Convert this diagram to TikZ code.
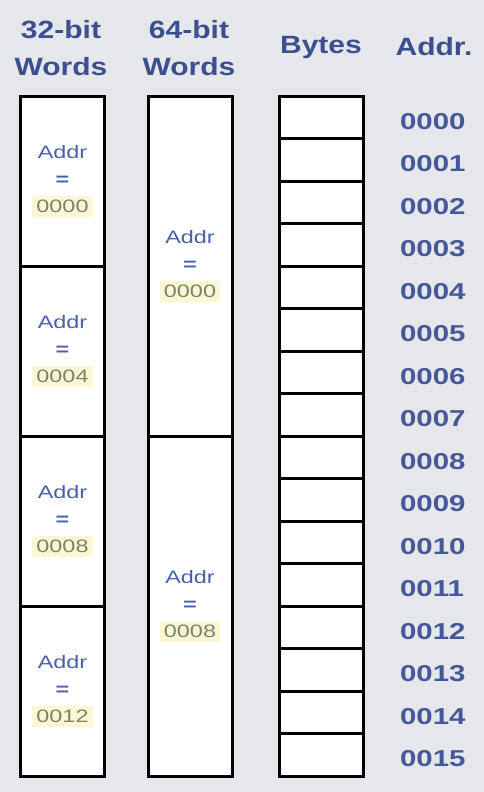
\documentclass[tikz,border=0pt]{standalone}
\usepackage{fontspec}
\setmainfont{Liberation Sans}
\newfontfamily\headfont{Liberation Sans}[FakeStretch=1.2]
\newfontfamily\numfont{Liberation Sans}[FakeStretch=1.28]
\newfontfamily\cellfont{Liberation Sans}[FakeStretch=1.3]
\usetikzlibrary{positioning}

\definecolor{bggray}{HTML}{E6E7EB}
\definecolor{navy}{HTML}{3C4F8E}
\definecolor{numblue}{HTML}{45599A}
\definecolor{cellblue}{HTML}{4A60AC}
\definecolor{hiyellow}{HTML}{FCF7D2}
\definecolor{hitext}{HTML}{7A8270}

\newcommand{\hl}[1]{{\setlength{\fboxsep}{4pt}\colorbox{hiyellow}{\textcolor{hitext}{#1}}}}

\begin{document}
\begin{tikzpicture}[x=1pt,y=-1pt,
  cell/.style={draw,line width=3pt,fill=white,inner sep=0pt,minimum width=84pt},
  head/.style={text=navy,font=\headfont\bfseries\fontsize{25}{37}\selectfont,align=center},
  addrlabel/.style={text=numblue,font=\numfont\bfseries\fontsize{23}{23}\selectfont},
  inside/.style={text=cellblue,font=\cellfont\fontsize{18}{27}\selectfont,align=center}]

  \fill[bggray] (0,0) rectangle (484,792);

  % column heads
  \node[head] (h32) at (61,48) {32-bit\\Words};
  \node[head] (h64) at (189,48) {64-bit\\Words};
  \node[head] (hbytes) at (321,47) {Bytes};
  \node[head] (haddr) at (434,47) {Addr.};

  % 32-bit words
  \foreach \i/\a in {0/0000,1/0004,2/0008,3/0012}
    \node[cell,inside,minimum height=170pt] (word\i) at (62.5,{181+170*\i}) {Addr\\\textbf{=}\\\hl{\a}};

  % 64-bit words
  \foreach \i/\a in {0/0000,1/0008}
    \node[cell,inside,minimum height=340pt] (dword\i) at (190,{266+340*\i}) {Addr\\\textbf{=}\\\hl{\a}};

  % bytes and their addresses
  \foreach \i/\n in {0/0000,1/0001,2/0002,3/0003,4/0004,5/0005,6/0006,7/0007,
                     8/0008,9/0009,10/0010,11/0011,12/0012,13/0013,14/0014,15/0015} {
    \node[cell,minimum height=42.5pt] (byte\i) at (321,{117.25+42.5*\i}) {};
    \node[addrlabel,right=32pt of byte\i,yshift=-4pt] (addr\i) {\n};
  }

\end{tikzpicture}
\end{document}
